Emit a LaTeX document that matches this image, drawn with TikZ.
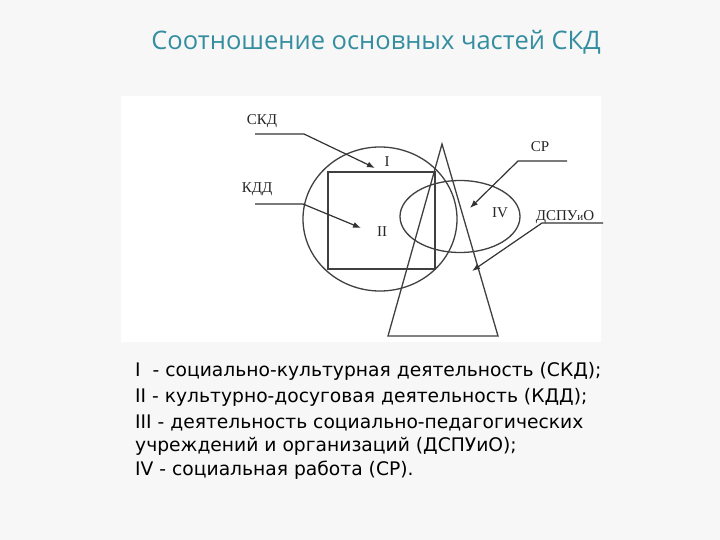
\documentclass[tikz,border=0pt]{standalone}
\usepackage{fontspec}
\setmainfont{Liberation Serif}
\newfontfamily\titlefont{Open Sans}
\newfontfamily\listfont{DejaVu Sans}
\usetikzlibrary{arrows.meta}
\definecolor{titleteal}{RGB}{52,142,160}
\tikzset{
  lbl/.style={font=\fontsize{15}{15}\selectfont, inner sep=0pt, text=black!85},
  ptr/.style={-{Latex[length=8pt,width=6pt]}, line width=1.2pt, draw=black!80},
  fig/.style={draw=black!75, line width=1.3pt},
  row/.style={anchor=base west, inner sep=0pt, font=\listfont\fontsize{18.7}{21}\selectfont},
}
\begin{document}
\begin{tikzpicture}[x=1pt,y=-1pt]
\useasboundingbox (0,0) rectangle (720,540);
\fill [black!3] (0,0) rectangle (720,540);
\fill [white] (121,96) rectangle (601,342);
% title
\node [font=\titlefont\fontsize{25.5}{28}\selectfont, text=titleteal] (title) at (376,42) {Соотношение основных частей СКД};
% figures
\draw [fig] (380,219) ellipse [x radius=77, y radius=72];
\draw [fig] (328,172) rectangle (435,269);
\draw [fig] (460,216.5) ellipse [x radius=60, y radius=36];
\draw [fig] (442,144) -- (388,336) -- (498,336) -- cycle;
% region numbers
\node [lbl] (r1) at (387,162) {I};
\node [lbl] (r2) at (382,232) {II};
\node [lbl] (r4) at (500,213) {IV};
% pointers
\node [lbl] (skd) at (262,121) {СКД};
\coordinate (skdA) at (255,134);
\coordinate (skdB) at (304,134);
\coordinate (skdT) at (375,168);
\draw [ptr] (skdA) -- (skdB) -- (skdT);
\node [lbl] (kdd) at (257,189) {КДД};
\coordinate (kddA) at (255,204);
\coordinate (kddB) at (303,204);
\coordinate (kddT) at (361,228);
\draw [ptr] (kddA) -- (kddB) -- (kddT);
\node [lbl] (sr) at (540,147) {СР};
\coordinate (srA) at (567,161);
\coordinate (srB) at (518,161);
\coordinate (srT) at (470,208);
\draw [ptr] (srA) -- (srB) -- (srT);
\node [lbl] (dspu) at (565,217) {ДСПУ\raisebox{0pt}{\fontsize{11}{11}\selectfont и}О};
\coordinate (dspuA) at (603,223);
\coordinate (dspuB) at (542,223);
\coordinate (dspuT) at (472,271);
\draw [ptr] (dspuA) -- (dspuB) -- (dspuT);
% legend
\node [row] (l1) at (135,376) {I~~- социально-культурная деятельность (СКД);};
\node [row] (l2) at (135,402) {II - культурно-досуговая деятельность (КДД);};
\node [row] (l3) at (135,428) {III - деятельность социально-педагогических};
\node [row] (l4) at (135,451) {учреждений и организаций (ДСПУиО);};
\node [row] (l5) at (135,475) {IV - социальная работа (СР).};
\end{tikzpicture}
\end{document}
